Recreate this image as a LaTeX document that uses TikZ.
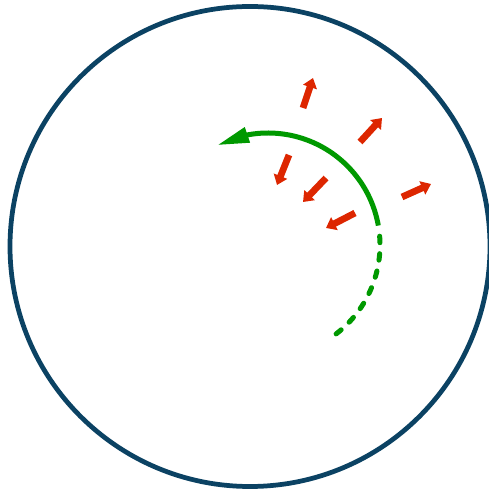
\documentclass[tikz,border=0pt]{standalone}
\usepackage{tikz}
\usetikzlibrary{arrows.meta, bending}

\definecolor{rimblue}{RGB}{11,66,99}
\definecolor{pathgreen}{RGB}{0,153,0}
\definecolor{forcered}{RGB}{221,38,0}

\begin{document}
\begin{tikzpicture}[
    x=0.2mm, y=0.2mm,
    rim/.style={draw=rimblue, line width=0.95mm},
    orbit/.style={draw=pathgreen, line width=1mm},
    future/.style={orbit, line cap=round, dash pattern=on 1.3mm off 2.2mm},
    force/.style={draw=forcered, line width=1.35mm, -{Triangle[length=1.9mm, width=2.8mm]}}
]
\useasboundingbox (0,0) rectangle (489,493);
\draw[rim] (250,246.5) circle[radius=240];
\coordinate (c) at (268,248);
% path of the body
\draw[orbit, -{Triangle[length=6.4mm, width=3mm]}] ([shift={(10:112)}]c) arc[start angle=10, end angle=117, radius=112];
\draw[future] ([shift={(4.5:112)}]c) arc[start angle=4.5, end angle=-56, radius=112];
% outward and inward pushes
\foreach \tx/\ty/\hx/\hy in {303/385/313/415, 360/351/382/375, 402/296/431/309,
                             289/338/277/308, 326/315/303/291, 355/280/326/265}
    \draw[force] (\tx,\ty) -- (\hx,\hy);
\end{tikzpicture}
\end{document}
